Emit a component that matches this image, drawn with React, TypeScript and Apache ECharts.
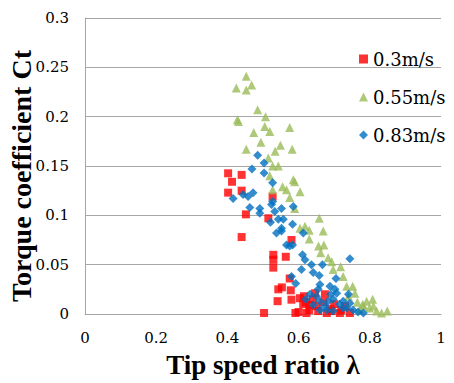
import React, { useEffect, useRef } from "react";
import * as echarts from "echarts";

// Measured torque coefficient Ct vs tip speed ratio λ, per flow velocity.
const seriesNames = ["0.3m/s", "0.55m/s", "0.83m/s"];
const xTitle = "Tip speed ratio λ";
const yTitle = "Torque coefficient Ct";

const lambda03 = [0.402, 0.44, 0.413, 0.402, 0.44, 0.452, 0.44, 0.527, 0.515, 0.529, 0.529, 0.529, 0.58, 0.564, 0.575, 0.543, 0.553, 0.541, 0.58, 0.578, 0.503, 0.591, 0.604, 0.615, 0.613, 0.622, 0.632, 0.646, 0.655, 0.674, 0.679, 0.693, 0.716, 0.744, 0.62, 0.64, 0.65, 0.67, 0.69, 0.7, 0.72, 0.73, 0.6, 0.63];
const ct03 = [0.1426, 0.141, 0.134, 0.123, 0.125, 0.101, 0.078, 0.119, 0.097, 0.06, 0.055, 0.047, 0.075, 0.058, 0.036, 0.025, 0.027, 0.013, 0.0145, 0.024, 0.001, 0.001, 0.016, 0.018, 0.01, 0.001, 0.009, 0.021, 0.003, 0.02, 0.001, 0.003, 0.001, 0.001, 0.012, 0.015, 0.008, 0.012, 0.005, 0.01, 0.004, 0.008, 0.002, 0.004];

const lambda055 = [0.453, 0.425, 0.453, 0.468, 0.431, 0.428, 0.485, 0.507, 0.505, 0.519, 0.474, 0.453, 0.494, 0.575, 0.582, 0.549, 0.534, 0.515, 0.527, 0.543, 0.519, 0.527, 0.555, 0.566, 0.589, 0.585, 0.604, 0.575, 0.589, 0.604, 0.618, 0.63, 0.63, 0.658, 0.669, 0.656, 0.671, 0.662, 0.683, 0.693, 0.718, 0.697, 0.725, 0.752, 0.735, 0.758, 0.791, 0.808, 0.782, 0.799, 0.819, 0.849, 0.833, 0.772, 0.74, 0.765, 0.78, 0.81];
const ct055 = [0.241, 0.229, 0.227, 0.232, 0.195, 0.197, 0.207, 0.2, 0.19, 0.185, 0.184, 0.167, 0.174, 0.189, 0.167, 0.171, 0.165, 0.158, 0.15, 0.15, 0.14, 0.126, 0.129, 0.126, 0.134, 0.136, 0.124, 0.118, 0.107, 0.087, 0.089, 0.085, 0.076, 0.097, 0.084, 0.069, 0.07, 0.062, 0.057, 0.053, 0.048, 0.045, 0.038, 0.028, 0.028, 0.021, 0.013, 0.015, 0.008, 0.006, 0.003, 0.003, 0.001, 0.004, 0.018, 0.012, 0.01, 0.008];

const lambda083 = [0.485, 0.503, 0.469, 0.503, 0.527, 0.416, 0.444, 0.458, 0.472, 0.463, 0.491, 0.491, 0.527, 0.524, 0.533, 0.552, 0.521, 0.543, 0.557, 0.552, 0.538, 0.552, 0.585, 0.583, 0.566, 0.583, 0.575, 0.613, 0.611, 0.618, 0.608, 0.636, 0.641, 0.658, 0.667, 0.58, 0.592, 0.632, 0.655, 0.66, 0.688, 0.702, 0.707, 0.744, 0.705, 0.74, 0.697, 0.683, 0.725, 0.744, 0.725, 0.753, 0.767, 0.782, 0.66, 0.679, 0.697, 0.641, 0.66, 0.674, 0.62, 0.65, 0.69, 0.715, 0.735];
const ct083 = [0.161, 0.153, 0.147, 0.143, 0.133, 0.117, 0.121, 0.119, 0.123, 0.108, 0.107, 0.102, 0.114, 0.111, 0.104, 0.107, 0.093, 0.096, 0.096, 0.087, 0.082, 0.084, 0.109, 0.091, 0.07, 0.07, 0.069, 0.082, 0.06, 0.055, 0.045, 0.05, 0.042, 0.039, 0.05, 0.038, 0.031, 0.02, 0.025, 0.03, 0.028, 0.025, 0.021, 0.056, 0.036, 0.02, 0.015, 0.013, 0.013, 0.011, 0.006, 0.004, 0.002, 0.001, 0.004, 0.004, 0.003, 0.009, 0.013, 0.008, 0.015, 0.018, 0.02, 0.01, 0.006];

const xTicks = { min: 0, max: 1, interval: 0.2 };
const yTicks = { min: 0, max: 0.3, interval: 0.05 };

const pairs = (xs: number[], ys: number[]) => xs.map((x, i) => [x, ys[i]]);

const titleFont = "'Liberation Serif', 'DejaVu Serif', serif";
const labelFont = "'DejaVu Serif', serif";

export default function App() {
  const ref = useRef<HTMLDivElement>(null);

  useEffect(() => {
    if (!ref.current) return;
    const chart = echarts.init(ref.current, undefined, { renderer: "svg" });
    const gridGray = "#a6a6a6";
    chart.setOption({
      animation: false,
      backgroundColor: "#ffffff",
      grid: { left: 85, right: 13, top: 18, bottom: 69, containLabel: false, outerBoundsMode: "none" },
      legend: {
        orient: "vertical",
        left: 359,
        top: 50,
        padding: 0,
        itemWidth: 9,
        itemHeight: 9,
        itemGap: 20,
        textStyle: { fontFamily: labelFont, fontSize: 18, color: "#000", lineHeight: 18 },
        data: seriesNames,
      },
      // vertical axis title, rotated to read bottom-to-top
      graphic: [
        {
          type: "text",
          x: 21,
          y: 176,
          rotation: Math.PI / 2,
          style: {
            text: yTitle,
            fontFamily: titleFont,
            fontWeight: "bold",
            fontSize: 28,
            fill: "#000",
            textAlign: "center",
            textVerticalAlign: "middle",
          },
        },
      ],
      xAxis: {
        type: "value",
        min: xTicks.min,
        max: xTicks.max,
        interval: xTicks.interval,
        name: xTitle,
        nameLocation: "middle",
        nameGap: 37,
        nameTextStyle: { fontFamily: titleFont, fontWeight: "bold", fontSize: 27, color: "#000" },
        axisLine: { show: true, lineStyle: { color: gridGray, width: 1 } },
        axisTick: { show: false },
        splitLine: { show: false },
        axisLabel: { fontFamily: labelFont, fontSize: 15, color: "#000", margin: 16 },
      },
      yAxis: {
        type: "value",
        min: yTicks.min,
        max: yTicks.max,
        interval: yTicks.interval,
        axisLine: { show: true, lineStyle: { color: gridGray, width: 1 } },
        axisTick: { show: false },
        splitLine: { show: true, lineStyle: { color: gridGray, width: 1 } },
        axisLabel: { fontFamily: labelFont, fontSize: 15, color: "#000", margin: 16 },
      },
      series: [
        {
          name: seriesNames[0],
          type: "scatter",
          symbol: "rect",
          symbolSize: 8,
          itemStyle: { color: "#ff0000" },
          data: pairs(lambda03, ct03),
        },
        {
          name: seriesNames[1],
          type: "scatter",
          symbol: "triangle",
          symbolSize: 9,
          itemStyle: { color: "#9bbb59" },
          data: pairs(lambda055, ct055),
        },
        {
          name: seriesNames[2],
          type: "scatter",
          symbol: "diamond",
          symbolSize: 9,
          itemStyle: { color: "#0070c0" },
          data: pairs(lambda083, ct083),
        },
      ],
    });
    return () => chart.dispose();
  }, []);

  return <div ref={ref} style={{ width: 454, height: 383, position: "absolute", left: 0, top: 0 }} />;
}
